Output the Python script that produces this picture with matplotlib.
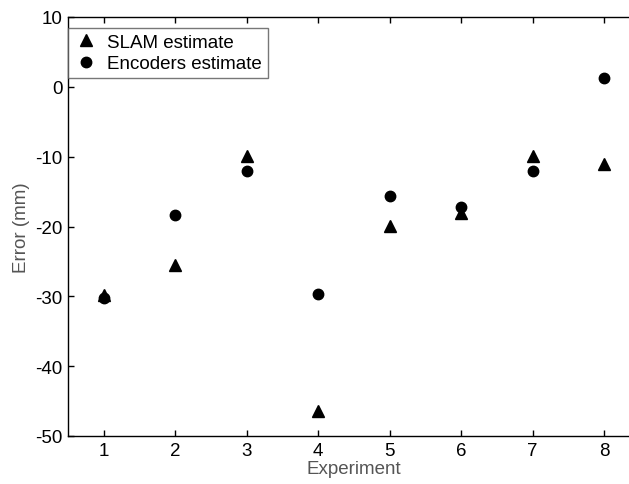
import matplotlib
matplotlib.use('Agg')
import matplotlib.pyplot as plt

plt.rcParams['font.family'] = ['Liberation Sans', 'DejaVu Sans']
plt.rcParams['axes.unicode_minus'] = False

# error per experiment (mm)
experiments = [1, 2, 3, 4, 5, 6, 7, 8]
slam_err = [-29.8, -25.5, -9.9, -46.4, -19.9, -18.0, -9.9, -11.0]
encoder_err = [-30.3, -18.4, -12.0, -29.6, -15.7, -17.2, -12.0, 1.3]

fig = plt.figure(figsize=(6.29, 4.85), dpi=100)
# the box runs a little past the right edge of the figure
ax = fig.add_axes([68 / 629, 48 / 485, 572 / 629, 419 / 485])

ax.plot(experiments, slam_err, linestyle='none', marker='^', color='black',
        markersize=8, label='SLAM estimate')
ax.plot(experiments, encoder_err, linestyle='none', marker='o', color='black',
        markersize=7.5, label='Encoders estimate')

ax.set_xlim(0.5, 8.5)
ax.set_ylim(-50, 10)
ax.set_xticks(experiments)
ax.set_yticks(range(-50, 11, 10))

ax.tick_params(direction='in', top=True, right=False, length=4, width=1,
               labelsize=13.5, colors='black', pad=4)
ax.spines['right'].set_visible(False)
for s in ax.spines.values():
    s.set_linewidth(1)

ax.set_xlabel('Experiment', fontsize=13.5, color='#555555', labelpad=1)
ax.set_ylabel('Error (mm)', fontsize=13.5, color='#555555', labelpad=4)

leg = ax.legend(loc='upper left', fontsize=13.5, frameon=True, fancybox=False,
                borderaxespad=0.0, bbox_to_anchor=(0, 0.974), handletextpad=0.5,
                handlelength=1.3, borderpad=0.3, labelspacing=0.25)
leg.get_frame().set_edgecolor('#555555')
leg.get_frame().set_linewidth(1)

fig.savefig('out.png', dpi=100)
